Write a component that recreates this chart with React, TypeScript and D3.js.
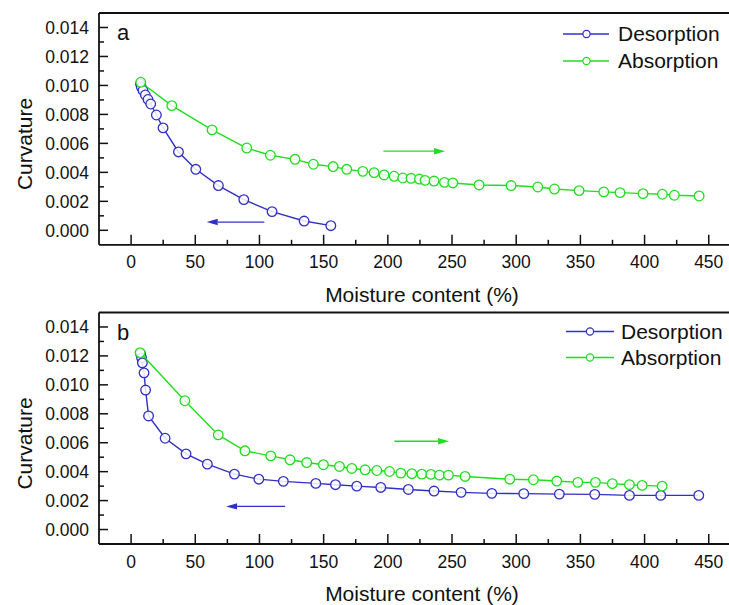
import React from "react";
import * as d3 from "d3";

const xTicks = [0, 50, 100, 150, 200, 250, 300, 350, 400, 450];
const xMinorTicks = [25, 75, 125, 175, 225, 275, 325, 375, 425, 475];
const yTicks = [0, 0.002, 0.004, 0.006, 0.008, 0.01, 0.012, 0.014];
const yMinorTicks = [0.001, 0.003, 0.005, 0.007, 0.009, 0.011, 0.013];
const seriesNames = ["Desorption", "Absorption"];

// Panel a
const desorptionA: [number, number][] = [
  [7.3, 0.0101], [8.0, 0.00988], [9.3, 0.00965], [11.1, 0.00934], [13.2, 0.00903],
  [15.3, 0.00872], [19.7, 0.00796], [24.9, 0.00707], [36.9, 0.00541], [50.4, 0.00421],
  [68.0, 0.00309], [87.8, 0.00212], [109.8, 0.00129], [134.8, 0.00064], [155.6, 0.00032],
];
const absorptionA: [number, number][] = [
  [7.5, 0.01022], [31.7, 0.00861], [63.1, 0.00693], [90.1, 0.00568], [108.5, 0.00518],
  [127.7, 0.0049], [142.0, 0.00456], [157.4, 0.0044], [168.0, 0.00421], [180.5, 0.00407],
  [189.3, 0.00398], [197.1, 0.00382], [204.9, 0.00373], [211.6, 0.00361], [218.1, 0.00359],
  [224.6, 0.00354], [229.0, 0.00345], [236.0, 0.0034], [244.1, 0.00331], [250.6, 0.00327],
  [271.1, 0.00313], [296.0, 0.00309], [316.8, 0.00299], [329.8, 0.00285], [349.0, 0.00274],
  [368.2, 0.00265], [380.9, 0.0026], [398.8, 0.00253], [413.9, 0.00249], [423.2, 0.00242],
  [442.5, 0.00237],
];

// Panel b
const desorptionB: [number, number][] = [
  [7.4, 0.01214], [8.2, 0.01186], [8.8, 0.01152], [10.1, 0.01083], [11.3, 0.00964],
  [13.6, 0.00785], [26.5, 0.00631], [42.8, 0.00523], [59.4, 0.00452], [80.5, 0.00383],
  [99.5, 0.00348], [118.6, 0.00333], [143.9, 0.00319], [159.2, 0.0031], [175.8, 0.003],
  [194.5, 0.00291], [216.0, 0.00277], [236.0, 0.00266], [257.1, 0.00257], [281.0, 0.0025],
  [305.9, 0.00248], [333.6, 0.00245], [361.2, 0.00243], [388.2, 0.00236], [412.6, 0.00236],
  [442.2, 0.00236],
];
const absorptionB: [number, number][] = [
  [7.0, 0.01223], [41.9, 0.0089], [67.9, 0.00654], [88.7, 0.00544], [108.8, 0.00509],
  [123.8, 0.00482], [136.8, 0.00463], [149.8, 0.00448], [162.3, 0.00436], [171.9, 0.00422],
  [182.3, 0.00413], [191.4, 0.00408], [201.3, 0.00401], [210.1, 0.0039], [218.7, 0.00386],
  [226.5, 0.00383], [233.5, 0.00381], [240.2, 0.00376], [247.2, 0.00376], [260.2, 0.00367],
  [295.0, 0.00348], [313.4, 0.00344], [331.6, 0.00335], [348.0, 0.00326], [361.7, 0.00326],
  [374.9, 0.00317], [388.2, 0.0031], [398.1, 0.00305], [413.7, 0.003],
];

// arrows: [xStart, xEnd, y]
const arrowsA = { desorption: [103.8, 58.9, 0.00057], absorption: [196.6, 244.6, 0.00546] };
const arrowsB = { desorption: [120, 74, 0.0016], absorption: [205.1, 247.7, 0.0061] };

const BLUE = "#3030c4";
const GREEN = "#1ede1e";
const FONT = "'Liberation Sans', Arial, Helvetica, sans-serif";

type PanelProps = {
  letter: string;
  top: number;
  bottom: number;
  des: [number, number][];
  abs: [number, number][];
  arrows: { desorption: number[]; absorption: number[] };
  legend: { lineX0: number; lineX1: number; circleX: number; textX: number; base1: number; base2: number };
};

function Panel({ letter, top, bottom, des, abs, arrows, legend }: PanelProps) {
  const left = 99;
  const x = d3.scaleLinear().domain([-25, 475]).range([left, left + 500 * 1.2837]);
  const y = d3.scaleLinear().domain([-0.001, 0.015]).range([bottom, top]);
  const line = d3
    .line<[number, number]>()
    .x((d) => x(d[0]))
    .y((d) => y(d[1]));

  const arrow = (a: number[], color: string) => {
    const x0 = x(a[0]);
    const x1 = x(a[1]);
    const yy = y(a[2]);
    const dir = x1 > x0 ? 1 : -1;
    const hl = 11;
    const hw = 3.2;
    return (
      <g>
        <line x1={x0} x2={x1 - dir * hl} y1={yy} y2={yy} stroke={color} strokeWidth={1.3} />
        <path
          d={`M${x1},${yy} L${x1 - dir * hl},${yy - hw} L${x1 - dir * hl},${yy + hw} Z`}
          fill={color}
        />
      </g>
    );
  };

  const series = [
    { data: des, color: BLUE },
    { data: abs, color: GREEN },
  ];
  const lineY1 = legend.base1 - 7;
  const lineY2 = legend.base2 - 7;

  return (
    <g>
      {/* frame */}
      <line x1={left} x2={740} y1={top} y2={top} stroke="#111" strokeWidth={1.8} />
      <line x1={left} x2={740} y1={bottom} y2={bottom} stroke="#111" strokeWidth={1.8} />
      <line x1={left} x2={left} y1={top} y2={bottom} stroke="#111" strokeWidth={1.8} />
      {/* x ticks */}
      {xTicks.map((t) => (
        <g key={"xt" + t}>
          <line x1={x(t)} x2={x(t)} y1={bottom} y2={bottom - 10} stroke="#111" strokeWidth={1.5} />
          <text x={x(t)} y={bottom + 23.5} textAnchor="middle" fontSize={17.5} fill="#111">
            {t}
          </text>
        </g>
      ))}
      {xMinorTicks.map((t) => (
        <line key={"xm" + t} x1={x(t)} x2={x(t)} y1={bottom} y2={bottom - 5} stroke="#111" strokeWidth={1.5} />
      ))}
      {/* y ticks */}
      {yTicks.map((t) => (
        <g key={"yt" + t}>
          <line x1={left} x2={left + 9} y1={y(t)} y2={y(t)} stroke="#111" strokeWidth={1.5} />
          <text x={left - 10} y={y(t)} dy="0.36em" textAnchor="end" fontSize={17.5} fill="#111">
            {t.toFixed(3)}
          </text>
        </g>
      ))}
      {yMinorTicks.map((t) => (
        <line key={"ym" + t} x1={left} x2={left + 5} y1={y(t)} y2={y(t)} stroke="#111" strokeWidth={1.5} />
      ))}
      {/* panel letter */}
      <text x={117} y={top + 27} fontSize={22} fill="#111">
        {letter}
      </text>
      {/* axis labels */}
      <text transform={`translate(32,${top + 131}) rotate(-90)`} textAnchor="middle" fontSize={21} fill="#111">
        Curvature
      </text>
      <text x={422} y={bottom + 57} textAnchor="middle" fontSize={21} fill="#111">
        Moisture content (%)
      </text>
      {/* series */}
      {series.map((s, i) => (
        <g key={"s" + i}>
          <path d={line(s.data) || ""} fill="none" stroke={s.color} strokeWidth={1.4} />
          {s.data.map((d, j) => (
            <circle key={j} cx={x(d[0])} cy={y(d[1])} r={4.8} fill="white" fillOpacity={0.85} stroke={s.color} strokeWidth={1.3} />
          ))}
        </g>
      ))}
      {arrow(arrows.desorption, BLUE)}
      {arrow(arrows.absorption, GREEN)}
      {/* legend */}
      <g>
        <line x1={legend.lineX0} x2={legend.lineX1} y1={lineY1} y2={lineY1} stroke={BLUE} strokeWidth={1.3} />
        <circle cx={legend.circleX} cy={lineY1} r={3.6} fill="white" stroke={BLUE} strokeWidth={1.2} />
        <text x={legend.textX} y={legend.base1} fontSize={21} fill="#111">
          {seriesNames[0]}
        </text>
        <line x1={legend.lineX0} x2={legend.lineX1} y1={lineY2} y2={lineY2} stroke={GREEN} strokeWidth={1.3} />
        <circle cx={legend.circleX} cy={lineY2} r={3.6} fill="white" stroke={GREEN} strokeWidth={1.2} />
        <text x={legend.textX} y={legend.base2} fontSize={21} fill="#111">
          {seriesNames[1]}
        </text>
      </g>
    </g>
  );
}

export default function App() {
  return (
    <svg
      width={729}
      height={605}
      style={{ position: "absolute", left: 0, top: 0, background: "white", fontFamily: FONT }}
    >
      <rect x={0} y={0} width={729} height={605} fill="white" />
      <Panel
        letter="a"
        top={13}
        bottom={244.8}
        des={desorptionA}
        abs={absorptionA}
        arrows={arrowsA}
        legend={{ lineX0: 563, lineX1: 609, circleX: 586.5, textX: 618, base1: 41, base2: 68 }}
      />
      <Panel
        letter="b"
        top={312.5}
        bottom={544}
        des={desorptionB}
        abs={absorptionB}
        arrows={arrowsB}
        legend={{ lineX0: 566, lineX1: 614, circleX: 590, textX: 621, base1: 338.5, base2: 364.5 }}
      />
    </svg>
  );
}
